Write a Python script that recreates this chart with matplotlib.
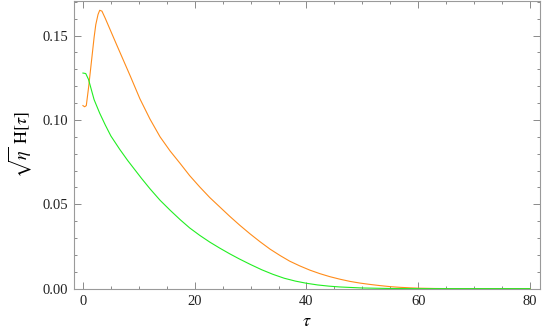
import matplotlib
matplotlib.use("Agg")
import matplotlib.pyplot as plt
from matplotlib.ticker import MultipleLocator

tau_orange = [0.0, 0.3, 0.6, 1.0, 1.4, 1.7, 2.0, 2.3, 2.7, 3.0, 3.4, 4.0, 5.0, 6.0, 7.0,
              8.5, 10.2, 12.0, 13.8, 15.6, 17.4, 19.1, 20.9, 22.7, 24.5, 26.3, 28.1, 29.9,
              31.7, 33.5, 35.3, 37.0, 38.8, 40.6, 42.4, 44.2, 46.0, 47.8, 49.6, 51.4,
              53.2, 55.0, 56.7, 58.5, 60.0, 63.0, 67.0, 72.0, 80.0]
h_orange = [0.1085, 0.1078, 0.1085, 0.1190, 0.1310, 0.1400, 0.1490, 0.1565, 0.1625, 0.1650,
            0.1645, 0.1602, 0.1525, 0.1448, 0.1372, 0.1258, 0.1125, 0.1005, 0.0900, 0.0816,
            0.0742, 0.0670, 0.0603, 0.0540, 0.0484, 0.0428, 0.0375, 0.0325, 0.0278, 0.0234,
            0.0196, 0.0163, 0.0135, 0.0110, 0.0089, 0.0071, 0.0056, 0.0043, 0.0033, 0.0025,
            0.0018, 0.0012, 0.0008, 0.0005, 0.0003, 0.0001, 0.0, 0.0, 0.0]

tau_green = [0.0, 0.5, 1.0, 1.5, 2.0, 3.0, 4.0, 5.0, 6.6, 8.0, 10.5, 12.0, 13.8, 15.6, 17.4,
             19.1, 20.9, 22.7, 24.5, 26.3, 28.0, 30.0, 32.0, 34.0, 36.0, 38.0, 40.0, 42.0,
             44.0, 46.0, 48.0, 50.0, 55.0, 60.0, 70.0, 80.0]
h_green = [0.1278, 0.1275, 0.1240, 0.1180, 0.1120, 0.1040, 0.0970, 0.0905, 0.0825, 0.0760,
           0.0653, 0.0592, 0.0524, 0.0465, 0.0409, 0.0360, 0.0316, 0.0276, 0.0240, 0.0206,
           0.0176, 0.0143, 0.0112, 0.0085, 0.0062, 0.0045, 0.0032, 0.0022, 0.0015, 0.0010,
           0.0007, 0.0004, 0.0001, 0.0, 0.0, 0.0]

x_ticks = [0, 20, 40, 60, 80]
y_ticks = [0.00, 0.05, 0.10, 0.15]
y_tick_labels = ["0.00", "0.05", "0.10", "0.15"]

plt.rcParams['mathtext.fontset'] = 'stix'
plt.rcParams['font.family'] = ['Liberation Serif', 'DejaVu Serif']

fig = plt.figure(figsize=(5.42, 3.34), dpi=100)
ax = fig.add_axes([74/542, 45/334, 466/542, 288/334])

ax.plot(tau_orange, h_orange, color='#ff8c1a', lw=0.8)
ax.plot(tau_green, h_green, color='#22ee22', lw=0.8)

ax.set_xlim(-1.6, 81.8)
ax.set_ylim(-0.0002, 0.1705)
ax.set_xticks(x_ticks)
ax.set_yticks(y_ticks)
ax.set_yticklabels(y_tick_labels)
ax.xaxis.set_minor_locator(MultipleLocator(5))
ax.yaxis.set_minor_locator(MultipleLocator(0.01))

for s in ax.spines.values():
    s.set_color('#9a9a9a')
    s.set_linewidth(0.8)

ax.tick_params(which='both', direction='in', top=True, right=True, color='#777777',
               labelsize=10.5, labelcolor='#222222', width=0.6)
ax.tick_params(which='major', length=5, pad=4)
ax.tick_params(which='minor', length=2.5)

ax.set_xlabel(r'$\tau$', fontsize=13, labelpad=4)
ax.set_ylabel(r'$\sqrt{\eta}\ \mathrm{H}[\tau]$', fontsize=13, labelpad=6)

fig.savefig('out.png', dpi=100)
